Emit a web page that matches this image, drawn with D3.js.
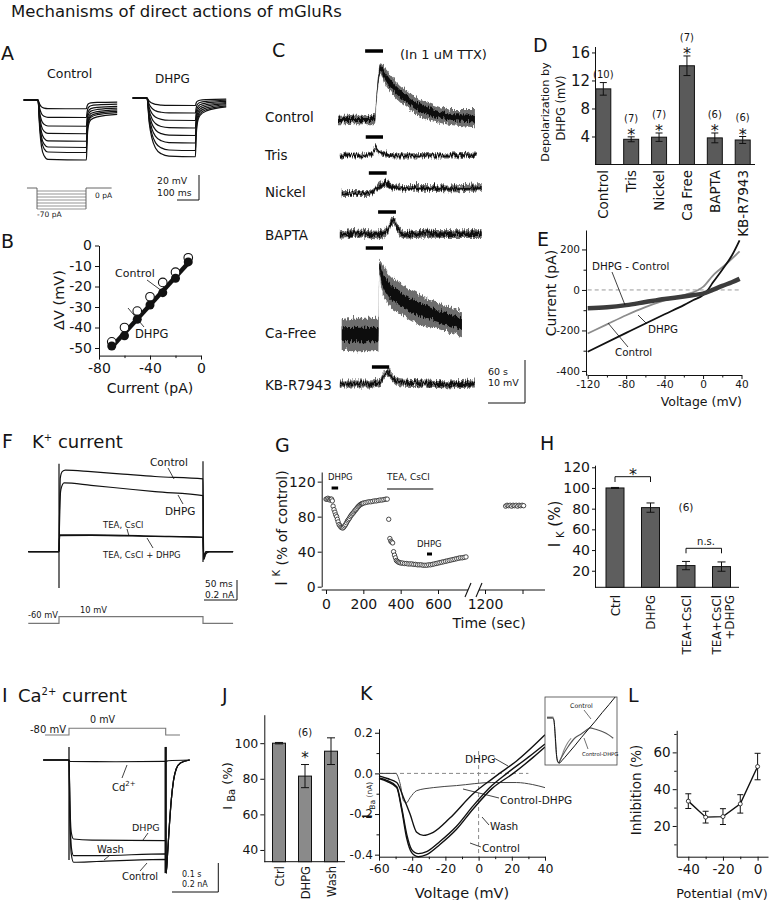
<!DOCTYPE html>
<html>
<head>
<meta charset="utf-8">
<script src="https://cdn.jsdelivr.net/npm/d3@7/dist/d3.min.js"></script>
<style>
  body { margin: 0; background: #fff; }
  svg { display: block; }
  text { font-family: "DejaVu Sans", Verdana, sans-serif; fill: #151515; }
</style>
</head>
<body>
<div id="fig"></div>
<script>
// ---------- Daten ----------

// A: Plateau der Spannungsantwort je Sweep (mV)
const aLevelsControl = [-7, -14, -21, -27, -33, -38, -42, -48];
const aLevelsDHPG = [-6, -12, -18, -24, -30, -36, -42, -47];
// normierter Verlauf eines Sweeps [ms, Anteil vom Plateau]
const aShapeControl = [[-65,0],[0,0],[8,0.5],[16,0.78],[28,0.93],[45,0.99],[220,1],[223,0.7],[228,0.45],[240,0.33],[270,0.28],[360,0.24]];
const aShapeDHPG = [[-65,0],[0,0],[10,0.42],[22,0.68],[40,0.86],[65,0.95],[100,0.99],[220,1],[223,0.7],[228,0.45],[240,0.3],[270,0.22],[360,0.15]];
const aSteps = [-10, -20, -30, -40, -50, -60, -70];

// B: I-V
const bCurrent = [-70, -60, -50, -40, -30, -20, -10];
const bControl = [-47, -40, -32, -25, -18, -13, -6];
const bDHPG = [-49, -44, -36, -29, -23, -16, -8];
const bFitControl = [[-70, -46.5], [-10, -5.5]];
const bFitDHPG = [[-70, -49.5], [-10, -8.5]];

// C: Spuren [s, mV, Rauschen ±mV]
const cNames = ["Control", "Tris", "Nickel", "BAPTA", "Ca-Free", "KB-R7943"];
const cTraces = [
  [[0,0,1],[55,0,1],[60,0.2,1],[62,4,1.2],[66,10,1.5],[69,12,1.2],[75,10.5,1.8],[85,8.5,2],[100,6.2,2],[115,4.5,2],[130,3,2],[150,1.8,2],[170,1,1.8],[190,0.5,1.8],[222,0.3,2]],
  [[3,0,0.6],[40,0,0.6],[55,0.4,0.6],[62,1.8,0.6],[66,1,0.6],[75,0.3,0.6],[100,0,0.6],[140,0.1,0.6],[180,0,0.6],[225,0.2,0.6]],
  [[6,0,0.7],[50,0,0.7],[57,0.5,0.7],[68,1.8,0.8],[78,2.3,0.8],[88,1.6,0.8],[105,1.3,0.8],[140,1.3,0.8],[180,1.2,0.8],[233,1.5,0.8]],
  [[3,0,0.9],[40,0.3,0.9],[60,0,1],[78,0.6,1],[89,3.2,1],[98,1.2,1],[108,0,0.9],[140,0.3,0.9],[180,0.2,0.9],[233,0.2,0.9]],
  [[6,0,3.5],[30,0,3.8],[50,0,3.8],[66,0,3.8],[67,16,1.5],[70,14,3],[80,11,3.5],[100,8.5,3.5],[130,6,3.5],[160,4.5,3],[180,3.5,3],[201,2.5,3]],
  [[3,0,0.8],[50,0,0.8],[68,0.3,0.8],[75,2,0.9],[81,2.6,0.9],[88,1.5,0.8],[100,0.3,0.8],[140,0,0.8],[180,-0.2,0.8],[222,0,0.8]]
];
const cDHPG = [[44,73],[45,73],[50,79],[65,94],[45,73],[55,83]];

// D: Balken
const dGroups = ["Control", "Tris", "Nickel", "Ca Free", "BAPTA", "KB-R7943"];
const dMeans = [10.8, 3.6, 3.9, 14.1, 3.8, 3.5];
const dErrs = [0.9, 0.35, 0.6, 1.4, 0.7, 0.5];
const dN = ["(10)", "(7)", "(7)", "(7)", "(6)", "(6)"];
const dSig = [false, true, true, true, true, true];

// E: Rampen-I-V [mV, pA]
const eControl = [[-120,-215],[-100,-170],[-80,-125],[-60,-85],[-40,-52],[-20,-25],[-5,0],[0,15],[10,70],[25,132],[38,190]];
const eDHPG = [[-120,-305],[-80,-212],[-40,-120],[-20,-75],[-10,-50],[0,-25],[5,0],[10,35],[20,100],[30,170],[38,245]];
const eDiff = [[-120,-90],[-100,-85],[-80,-75],[-60,-60],[-40,-45],[-20,-32],[-10,-25],[0,-18],[10,0],[20,20],[30,38],[38,55]];

// F: K+-Ströme [ms, nA]
const fControl = [[-48,0],[0,0],[1,0.5],[2,0.92],[5,1.0],[10,1.02],[50,1.0],[100,0.97],[150,0.94],[225,0.91],[226,-0.1],[229,-0.03],[235,0],[272,0]];
const fDHPG = [[-48,0],[0,0],[1,0.5],[3,0.78],[8,0.86],[50,0.83],[100,0.79],[150,0.75],[225,0.7],[226,-0.1],[229,-0.03],[235,0],[272,0]];
const fTEA = [[-48,0],[0,0],[1,0.21],[50,0.21],[150,0.195],[225,0.18],[226,-0.05],[230,0],[272,0]];
const fTEADHPG = [[-48,0],[0,0],[1,0.2],[50,0.205],[150,0.19],[225,0.18],[226,-0.05],[230,0],[272,0]];
const fTransients = [[0, 1.1, -0.455], [225, 1.13, -0.13]];
const fProtocol = [[-48,-60],[0,-60],[0,10],[225,10],[225,-60],[272,-60]];

// G: Zeitverlauf I_K [s, % of control]
const gPoints = [[0,100],[5,100],[10,101],[15,100],[20,99],[25,100],[30,100],[34,98],[38,92],[43,88],[48,85],[52,82],[57,80],[61,77],[65,74],[70,71],[75,69.5],[80,68],[85,67.5],[90,67],[95,68],[100,69.5],[105,71],[110,73],[115,75],[120,76.5],[125,78],[130,80],[135,81.5],[140,83],[145,84],[150,85.5],[155,87],[160,88],[165,89.5],[170,91],[175,92],[180,93],[185,94],[190,94.5],[195,95],[200,95.5],[210,96],[220,96.5],[230,97],[240,97],[250,97.5],[260,98],[270,98],[280,98.5],[290,99],[300,99],[310,99.5],[320,100],[328,100],[336,77],[342,55],[347,52],[352,51],[357,50],[362,40],[367,36],[372,33],[377,30],[382,29],[388,28],[395,27.5],[402,27],[410,27],[420,26.5],[430,26.5],[440,26],[450,26],[460,26],[470,25.5],[480,25.5],[490,25],[500,25],[510,25],[520,24.5],[530,24.5],[540,24.5],[550,25],[560,25],[570,25.5],[580,26],[590,26.5],[600,27],[610,27.5],[620,28],[630,28.5],[640,29],[650,29.5],[660,30],[670,30.5],[680,31],[690,31.5],[700,32],[710,32.5],[720,33],[730,33],[740,33.5],[750,34]];
const gPointsLate = [[1310,92],[1318,93],[1326,92.5],[1334,93],[1342,92],[1350,93],[1358,92.5],[1366,93],[1374,92],[1382,93],[1390,92.5],[1398,93],[1406,92.5]];
const gBars = [["DHPG", 30, 65], ["TEA, CsCl", 327, 575], ["DHPG", 541, 568]];

// H: Balken
const hGroups = ["Ctrl", "DHPG", "TEA+CsCl", "TEA+CsCl +DHPG"];
const hMeans = [100, 81, 25, 24];
const hErrs = [0.5, 4.5, 4, 4.5];

// I: Ca2+-Ströme [ms, nA]
const iCd = [[-56,0],[0,0],[2,-0.01],[100,-0.012],[210,-0.01],[215,-0.005],[262,0]];
const iDHPG = [[-56,0],[0,0],[2,-0.3],[5,-0.5],[10,-0.545],[50,-0.552],[210,-0.556],[211,-0.78],[214,-0.65],[218,-0.45],[222,-0.28],[227,-0.14],[233,-0.06],[242,-0.02],[262,0]];
const iWash = [[-56,0],[0,0],[2,-0.35],[5,-0.6],[10,-0.66],[60,-0.66],[210,-0.647],[211,-0.78],[214,-0.65],[218,-0.45],[222,-0.28],[227,-0.14],[233,-0.06],[242,-0.02],[262,0]];
const iControl = [[-56,0],[0,0],[2,-0.4],[5,-0.65],[10,-0.705],[60,-0.7],[210,-0.685],[211,-0.78],[214,-0.65],[218,-0.45],[222,-0.28],[227,-0.14],[233,-0.06],[242,-0.02],[262,0]];
const iTransients = [[0, 0.09, -0.69], [210, 0.09, -0.78]];
const iProtocol = [[-52,-80],[0,-80],[0,0],[210,0],[210,-80],[241,-80]];

// J: Balken
const jGroups = ["Ctrl", "DHPG", "Wash"];
const jMeans = [100, 81.5, 95.5];
const jErrs = [0.4, 6.5, 7.5];

// K: I-V Ba2+ [mV, nA]
const kControl = [[-60,-0.025],[-55,-0.04],[-49.3,-0.07],[-46.3,-0.18],[-43.3,-0.32],[-40.3,-0.39],[-36.3,-0.41],[-31.3,-0.4],[-23.3,-0.35],[-13.3,-0.275],[-3.3,-0.175],[8,-0.075],[20.9,0],[33,0.08],[40,0.13]];
const kWash = [[-60,-0.022],[-55,-0.035],[-49.3,-0.065],[-46.3,-0.17],[-43.3,-0.3],[-40.3,-0.375],[-36.3,-0.395],[-31.3,-0.385],[-23.3,-0.335],[-13.3,-0.26],[-3.3,-0.16],[8,-0.06],[17,0],[30,0.08],[40,0.145]];
const kDHPG = [[-60,-0.012],[-55,-0.025],[-49.3,-0.045],[-45.2,-0.12],[-41.3,-0.2],[-37.3,-0.29],[-33.3,-0.305],[-27.3,-0.29],[-17.3,-0.22],[-3.3,-0.1],[8,-0.028],[12.6,0],[22.7,0.06],[40,0.19]];
const kDiff = [[-60,0],[-50,0],[-47.3,-0.05],[-45.2,-0.135],[-43.5,-0.145],[-41.3,-0.12],[-37.3,-0.085],[-27.3,-0.07],[-13.3,-0.06],[8,-0.045],[22.7,-0.045],[32.6,-0.055],[40,-0.07]];
// Inset, normiert
const kInsetControl = [[-60,0],[-52,0],[-50,-0.05],[-48,-0.4],[-46,-0.85],[-44,-0.98],[-42,-1],[-38,-0.94],[-30,-0.8],[-20,-0.62],[-10,-0.43],[0,-0.25],[10,-0.07],[20,0.12],[30,0.3],[40,0.49]];
const kInsetGray = [[-60,0.02],[-51,0.02],[-49,-0.2],[-47,-0.7],[-45,-0.95],[-43,-1],[-40,-0.9],[-35,-0.7],[-30,-0.55],[-25,-0.45]];
const kInsetDiff = [[-43,-1],[-38,-0.85],[-30,-0.65],[-20,-0.45],[-10,-0.35],[0,-0.24],[2,-0.22],[10,-0.25],[20,-0.3],[30,-0.38],[36,-0.45]];

// L: Hemmung vs. Potential
const lPotential = [-40, -30, -20, -10, 0];
const lInhib = [33.5, 24.8, 25.1, 32, 52.3];
const lErr = [4, 3.2, 4.3, 5, 7.2];

// ---------- Zeichnen ----------
const svg = d3.select("#fig").append("svg").attr("width", 769).attr("height", 900);
svg.append("rect").attr("width", 769).attr("height", 900).attr("fill", "#fff");

// Rausch-Optik für die Spuren in C: nur vertikales Zittern der Bandkanten
const defs = svg.append("defs");
const noise = defs.append("filter").attr("id", "jitter")
  .attr("x", "-5%").attr("y", "-30%").attr("width", "110%").attr("height", "160%");
noise.append("feTurbulence").attr("type", "turbulence").attr("baseFrequency", "1.1 0.08")
  .attr("numOctaves", 2).attr("seed", 3).attr("result", "t");
noise.append("feColorMatrix").attr("in", "t").attr("type", "matrix")
  .attr("values", "0 0 0 0 0.5  0 1 0 0 0  0 0 0 0 0  0 0 0 0 1").attr("result", "m");
noise.append("feDisplacementMap").attr("in", "SourceGraphic").attr("in2", "m")
  .attr("scale", 7).attr("xChannelSelector", "R").attr("yChannelSelector", "G");

function txt(g, x, y, s, fs, o = {}) {
  const t = g.append("text").attr("x", x).attr("y", y).attr("font-size", fs).text(s);
  if (o.anchor) t.attr("text-anchor", o.anchor);
  if (o.rot) t.attr("transform", `rotate(${o.rot},${x},${y})`);
  return t;
}
function seg(g, x1, y1, x2, y2, w = 0.8, col = "#111") {
  return g.append("line").attr("x1", x1).attr("y1", y1).attr("x2", x2).attr("y2", y2)
    .attr("stroke", col).attr("stroke-width", w);
}
function axis(g, gen, x, y, fs) {
  const a = g.append("g").attr("transform", `translate(${x},${y})`).call(gen);
  a.attr("font-family", null).attr("font-size", fs);
  a.select(".domain").attr("stroke", "#111");
  a.selectAll(".tick line").attr("stroke", "#111");
  return a;
}
function minor(g, gen, x, y) {
  const a = g.append("g").attr("transform", `translate(${x},${y})`).call(gen.tickFormat(""));
  a.select(".domain").remove();
  a.selectAll(".tick line").attr("stroke", "#111");
}
function errBar(g, x, y1, y2, cap) {
  seg(g, x, y1, x, y2, 1);
  seg(g, x - cap, y1, x + cap, y1, 1);
  seg(g, x - cap, y2, x + cap, y2, 1);
}
const fmt = d => String(d);

txt(svg, 11, 17, "Mechanisms of direct actions of mGluRs", 16.5);

// ----- A -----
const gA = svg.append("g");
txt(gA, 1, 60, "A", 19);
txt(gA, 47, 78, "Control", 12.5);
txt(gA, 155, 83, "DHPG", 12);
const aX = d3.scaleLinear().domain([0, 100]).range([0, 22]);
const aY = d3.scaleLinear().domain([0, -20]).range([0, 25]);
[[38, 100, aShapeControl, aLevelsControl], [147, 98, aShapeDHPG, aLevelsDHPG]].forEach(([x0, y0, shape, levels]) => {
  const ln = d3.line().x(d => x0 + aX(d[0])).y(d => y0 + aY(d[1])).curve(d3.curveMonotoneX);
  levels.forEach(L => {
    gA.append("path").attr("d", ln(shape.map(p => [p[0], p[1] * L])))
      .attr("fill", "none").attr("stroke", "#111").attr("stroke-width", 1.2);
  });
});
const apX = d3.scaleLinear().domain([0, 220]).range([37, 86]);
const apY = d3.scaleLinear().domain([0, -70]).range([188, 209]);
gA.append("path")
  .attr("d", `M${apX(-45)},${apY(0)}H${apX(0)}V${apY(-70)}M${apX(220)},${apY(-70)}V${apY(0)}H${apX(335)}`)
  .attr("fill", "none").attr("stroke", "#555").attr("stroke-width", 0.9);
aSteps.forEach(I => seg(gA, apX(0), apY(I), apX(220), apY(I), 0.7, "#666"));
txt(gA, 95, 198, "0 pA", 7.5);
txt(gA, 37, 217, "-70 pA", 7.5);
txt(gA, 157, 184, "20 mV", 9.3);
txt(gA, 157, 196, "100 ms", 9.3);
gA.append("path").attr("d", "M177,200H199V175").attr("fill", "none").attr("stroke", "#111").attr("stroke-width", 1);

// ----- B -----
const gB = svg.append("g");
txt(gB, 1, 248, "B", 19);
const bx = d3.scaleLinear().domain([-80, 0]).range([99, 201]);
const by = d3.scaleLinear().domain([0, -53.7]).range([245.5, 355.6]);
axis(gB, d3.axisLeft(by).tickValues([0, -10, -20, -30, -40, -50]).tickSize(4).tickSizeOuter(0).tickPadding(3).tickFormat(fmt), 99, 0, 14);
axis(gB, d3.axisBottom(bx).tickValues([-80, -40, 0]).tickSize(4).tickSizeOuter(0).tickPadding(3).tickFormat(fmt), 0, 355.6, 14);
minor(gB, d3.axisBottom(bx).tickValues([-60, -20]).tickSize(2.5), 0, 355.6);
const bLine = d3.line().x(d => bx(d[0])).y(d => by(d[1]));
gB.append("path").attr("d", bLine(bFitDHPG)).attr("stroke", "#111").attr("stroke-width", 4.5).attr("fill", "none");
gB.append("path").attr("d", bLine(bFitControl)).attr("stroke", "#fff").attr("stroke-width", 1.6).attr("fill", "none");
gB.selectAll(".bc").data(bCurrent).join("circle")
  .attr("cx", d => bx(d)).attr("cy", (d, i) => by(bControl[i])).attr("r", 4.3)
  .attr("fill", "#fff").attr("stroke", "#111").attr("stroke-width", 1.1);
gB.selectAll(".bd").data(bCurrent).join("circle")
  .attr("cx", d => bx(d)).attr("cy", (d, i) => by(bDHPG[i])).attr("r", 4.5).attr("fill", "#111");
txt(gB, 115, 277, "Control", 11);
seg(gB, 147, 280, 162, 291);
txt(gB, 135, 338, "DHPG", 11.5);
seg(gB, 144, 327, 128, 308);
txt(gB, 64, 300, "ΔV (mV)", 14.5, { anchor: "middle", rot: -90 });
txt(gB, 150, 393, "Current (pA)", 14, { anchor: "middle" });

// ----- C -----
const gC = svg.append("g");
txt(gC, 272, 57, "C", 19);
txt(gC, 400, 59, "(In 1 uM TTX)", 13);
const cLabelY = [122, 160, 197, 240, 338, 390];
const cBaseY = [118, 154, 192, 233, 333, 382];
const cBarY = [51, 137, 173, 212, 248, 367];
const cX = d3.scaleLinear().domain([0, 60]).range([338, 375]);
const cY = d3.scaleLinear().domain([0, 10]).range([0, -43]);
cNames.forEach((name, i) => {
  const y0 = cBaseY[i];
  txt(gC, 265, cLabelY[i], name, 13.5);
  const outer = d3.area().x(d => cX(d[0])).y0(d => y0 + cY(d[1] - d[2])).y1(d => y0 + cY(d[1] + d[2])).curve(d3.curveMonotoneX);
  const inner = d3.area().x(d => cX(d[0])).y0(d => y0 + cY(d[1] - d[2] * 0.45)).y1(d => y0 + cY(d[1] + d[2] * 0.45)).curve(d3.curveMonotoneX);
  const tr = gC.append("g").attr("filter", "url(#jitter)");
  tr.append("path").attr("d", outer(cTraces[i])).attr("fill", "#6e6e6e");
  tr.append("path").attr("d", inner(cTraces[i])).attr("fill", "#111");
  seg(gC, cX(cDHPG[i][0]), cBarY[i], cX(cDHPG[i][1]), cBarY[i], 3.5, "#000");
});
txt(gC, 488, 375, "60 s", 9.5);
txt(gC, 488, 386, "10 mV", 9.5);
gC.append("path").attr("d", "M488,403H525V360").attr("fill", "none").attr("stroke", "#111").attr("stroke-width", 1);

// ----- D -----
const gD = svg.append("g");
txt(gD, 533, 52, "D", 19);
const dx = d3.scalePoint().domain(dGroups).range([603.3, 742.7]);
const dy = d3.scaleLinear().domain([0, 16.85]).range([164.5, 46.5]);
axis(gD, d3.axisLeft(dy).tickValues([4, 8, 12, 16]).tickSize(3).tickSizeOuter(0).tickPadding(2).tickFormat(fmt), 595, 0, 15);
seg(gD, 595, 164.5, 755, 164.5, 1);
const dW = 15;
gD.selectAll(".bar").data(dGroups).join("rect")
  .attr("x", d => dx(d) - dW / 2).attr("width", dW)
  .attr("y", (d, i) => dy(dMeans[i])).attr("height", (d, i) => dy(0) - dy(dMeans[i]))
  .attr("fill", "#5a5a5a").attr("stroke", "#111").attr("stroke-width", 1);
dGroups.forEach((g, i) => {
  const top = dy(dMeans[i] + dErrs[i]);
  errBar(gD, dx(g), top, dy(dMeans[i] - dErrs[i]), 3.5);
  if (dSig[i]) {
    txt(gD, dx(g), top + 3.5, "*", 16, { anchor: "middle" });
    txt(gD, dx(g), top - 15, dN[i], 10, { anchor: "middle" });
  } else {
    txt(gD, dx(g), top - 5, dN[i], 10, { anchor: "middle" });
  }
  txt(gD, dx(g) + 5, 170, g, 13.5, { anchor: "end", rot: -90 });
});
txt(gD, 549, 112, "Depolarization by", 11.3, { anchor: "middle", rot: -90 });
txt(gD, 565, 108, "DHPG (mV)", 11.5, { anchor: "middle", rot: -90 });

// ----- E -----
const gE = svg.append("g");
txt(gE, 537, 246, "E", 19);
const ex = d3.scaleLinear().domain([-120, 40]).range([587.7, 741.5]);
const ey = d3.scaleLinear().domain([-420, 296]).range([375, 230]);
axis(gE, d3.axisLeft(ey).tickValues([-400, -200, 0, 200]).tickSize(4).tickSizeOuter(0).tickPadding(2).tickFormat(fmt), 586, 0, 10.5);
minor(gE, d3.axisLeft(ey).tickValues([-300, -100, 100]).tickSize(2.5), 586, 0);
axis(gE, d3.axisBottom(ex).tickValues([-120, -80, -40, 0, 40]).tickSize(4).tickSizeOuter(0).tickPadding(2).tickFormat(fmt), 0, 375, 10.5);
minor(gE, d3.axisBottom(ex).tickValues([-100, -60, -20, 20]).tickSize(2.5), 0, 375);
seg(gE, 586, 375, 587.7, 375, 1);
seg(gE, ex(-120), ey(0), ex(40), ey(0), 1, "#999").attr("stroke-dasharray", "4,3");
const eLine = d3.line().x(d => ex(d[0])).y(d => ey(d[1])).curve(d3.curveMonotoneX);
gE.append("path").attr("d", eLine(eControl)).attr("fill", "none").attr("stroke", "#8c8c8c").attr("stroke-width", 1.8);
gE.append("path").attr("d", eLine(eDHPG)).attr("fill", "none").attr("stroke", "#111").attr("stroke-width", 1.8);
gE.append("path").attr("d", eLine(eDiff)).attr("fill", "none").attr("stroke", "#3c3c3c").attr("stroke-width", 4.5);
txt(gE, 592, 269.5, "DHPG - Control", 10.3);
seg(gE, 612, 272, 625, 305);
txt(gE, 648, 333, "DHPG", 10.3);
seg(gE, 647, 324, 638, 315);
txt(gE, 615, 356, "Control", 10.3);
seg(gE, 628, 347, 608, 323);
txt(gE, 556, 293, "Current (pA)", 14, { anchor: "middle", rot: -90 });
txt(gE, 742, 406, "Voltage (mV)", 12.5, { anchor: "end" });

// ----- F -----
const gF = svg.append("g");
txt(gF, 2, 448, "F", 19);
const fT = gF.append("text").attr("x", 32).attr("y", 448).attr("font-size", 18);
fT.append("tspan").text("K");
fT.append("tspan").attr("font-size", 10).attr("dy", -7).text("+");
fT.append("tspan").attr("font-size", 18).attr("dy", 7).text(" current");
const fx = d3.scaleLinear().domain([0, 225]).range([59, 203]);
const fy = d3.scaleLinear().domain([0, 1]).range([551.7, 471.7]);
const fLine = d3.line().x(d => fx(d[0])).y(d => fy(d[1])).curve(d3.curveMonotoneX);
[fControl, fDHPG, fTEA, fTEADHPG].forEach(tr => {
  gF.append("path").attr("d", fLine(tr)).attr("fill", "none").attr("stroke", "#111").attr("stroke-width", 1.2);
});
fTransients.forEach(([t, a, b]) => seg(gF, fx(t), fy(a), fx(t), fy(b), 1.2));
const fpy = d3.scaleLinear().domain([-60, 10]).range([623.3, 616.7]);
gF.append("path").attr("d", d3.line().x(d => fx(d[0])).y(d => fpy(d[1]))(fProtocol))
  .attr("fill", "none").attr("stroke", "#777").attr("stroke-width", 1.2);
txt(gF, 150, 466, "Control", 10.5);
seg(gF, 168, 468, 174, 479);
txt(gF, 165, 514.5, "DHPG", 10.5);
seg(gF, 178, 495, 183, 504);
txt(gF, 103, 528, "TEA, CsCl", 8.5);
seg(gF, 127, 529, 129, 536);
txt(gF, 103, 558, "TEA, CsCl + DHPG", 8.5);
seg(gF, 147, 538, 153, 548);
txt(gF, 28, 618, "-60 mV", 8.3);
txt(gF, 80, 613, "10 mV", 8.3);
txt(gF, 205, 587, "50 ms", 9);
txt(gF, 205, 598, "0.2 nA", 9);
gF.append("path").attr("d", "M204,600H237V580").attr("fill", "none").attr("stroke", "#111").attr("stroke-width", 1);

// ----- G -----
const gG = svg.append("g");
txt(gG, 275, 452, "G", 19);
const gx1 = d3.scaleLinear().domain([0, 750]).range([326, 466]);
const gx2 = d3.scaleLinear().domain([1200, 1520]).range([485, 545]);
const gy = d3.scaleLinear().domain([0, 131]).range([586.7, 472]);
axis(gG, d3.axisLeft(gy).tickValues([0, 40, 80, 120]).tickSize(4).tickSizeOuter(0).tickPadding(2).tickFormat(fmt), 321.7, 0, 14);
const gxa1 = axis(gG, d3.axisBottom(gx1).tickValues([0, 200, 400, 600]).tickSize(4).tickSizeOuter(0).tickPadding(5).tickFormat(fmt), 0, 590, 14);
gxa1.select(".domain").remove();
const gxa2 = axis(gG, d3.axisBottom(gx2).tickValues([1200, 1400]).tickSize(4).tickSizeOuter(0).tickPadding(5).tickFormat(d => d === 1200 ? "1200" : ""), 0, 590, 14);
gxa2.select(".domain").remove();
seg(gG, 321.7, 590, 468, 590, 1);
seg(gG, 479, 590, 545, 590, 1);
seg(gG, 465, 597, 471, 583, 1.1);
seg(gG, 476, 597, 482, 583, 1.1);
gG.selectAll(".g1").data(gPoints).join("circle")
  .attr("cx", d => gx1(d[0])).attr("cy", d => gy(d[1])).attr("r", 2.2)
  .attr("fill", "#fff").attr("stroke", "#222").attr("stroke-width", 0.8);
gG.selectAll(".g2").data(gPointsLate).join("circle")
  .attr("cx", d => gx2(d[0])).attr("cy", d => gy(d[1])).attr("r", 2.2)
  .attr("fill", "#fff").attr("stroke", "#222").attr("stroke-width", 0.8);
txt(gG, 328, 480, gBars[0][0], 8.5);
seg(gG, gx1(gBars[0][1]), 488, gx1(gBars[0][2]), 488, 3, "#000");
txt(gG, 387, 480, gBars[1][0], 9);
seg(gG, gx1(gBars[1][1]), 489, gx1(gBars[1][2]), 489, 1.1, "#000");
txt(gG, 417, 547, gBars[2][0], 8.5);
seg(gG, gx1(gBars[2][1]), 554, gx1(gBars[2][2]), 554, 3, "#000");
const gyl = gG.append("text").attr("transform", "translate(287,528) rotate(-90)").attr("text-anchor", "middle").attr("font-size", 14);
gyl.append("tspan").attr("font-size", 15).text("I ");
gyl.append("tspan").attr("font-size", 10).attr("dy", -7).text("K");
gyl.append("tspan").attr("dy", 7).text(" (% of control)");
txt(gG, 489, 628, "Time (sec)", 14, { anchor: "middle" });

// ----- H -----
const gH = svg.append("g");
txt(gH, 540, 450, "H", 19);
const hx = d3.scalePoint().domain(hGroups).range([615, 721.5]);
const hy = d3.scaleLinear().domain([4, 122]).range([587.3, 465.2]);
axis(gH, d3.axisLeft(hy).tickValues([20, 40, 60, 80, 100, 120]).tickSize(3).tickSizeOuter(0).tickPadding(2).tickFormat(fmt), 595, 0, 14);
seg(gH, 595, 587.3, 739, 587.3, 1);
const hW = 18;
gH.selectAll(".bar").data(hGroups).join("rect")
  .attr("x", d => hx(d) - hW / 2).attr("width", hW)
  .attr("y", (d, i) => hy(hMeans[i])).attr("height", (d, i) => hy(4) - hy(hMeans[i]))
  .attr("fill", "#5e5e5e").attr("stroke", "#111").attr("stroke-width", 1);
hGroups.forEach((g, i) => {
  errBar(gH, hx(g), hy(hMeans[i] + hErrs[i]), hy(hMeans[i] - hErrs[i]), 4);
  const lines = g.split(" ");
  lines.forEach((s, k) => {
    const xx = hx(g) + 4.5 + (lines.length > 1 ? (k === 0 ? -5 : 8) : 0);
    txt(gH, xx, 595, s, 12, { anchor: "end", rot: -90 });
  });
});
gH.append("path").attr("d", `M${hx("Ctrl")},482V476.7H${hx("DHPG")}V482`).attr("fill", "none").attr("stroke", "#111");
txt(gH, 633, 480, "*", 16, { anchor: "middle" });
gH.append("path").attr("d", `M${hx("TEA+CsCl")},553.3V548.3H${hx("TEA+CsCl +DHPG")}V553.3`).attr("fill", "none").attr("stroke", "#111");
txt(gH, 706, 545, "n.s.", 10, { anchor: "middle" });
txt(gH, 686, 511, "(6)", 10.5, { anchor: "middle" });
const hyl = gH.append("text").attr("transform", "translate(560,524) rotate(-90)").attr("text-anchor", "middle").attr("font-size", 15);
hyl.append("tspan").text("I ");
hyl.append("tspan").attr("font-size", 10).attr("dy", 4).text("K");
hyl.append("tspan").attr("dy", -4).text(" (%)");

// ----- I -----
const gI = svg.append("g");
txt(gI, 2, 702, "I", 19);
const iT = gI.append("text").attr("x", 18).attr("y", 702).attr("font-size", 18);
iT.append("tspan").text("Ca");
iT.append("tspan").attr("font-size", 10).attr("dy", -7).text("2+");
iT.append("tspan").attr("font-size", 18).attr("dy", 7).text(" current");
const ix = d3.scaleLinear().domain([0, 210]).range([69, 165.7]);
const iy = d3.scaleLinear().domain([0, -0.7]).range([760, 861.5]);
const ipy = d3.scaleLinear().domain([-80, 0]).range([735, 728.3]);
gI.append("path").attr("d", d3.line().x(d => ix(d[0])).y(d => ipy(d[1]))(iProtocol))
  .attr("fill", "none").attr("stroke", "#777").attr("stroke-width", 1.1);
txt(gI, 30, 733, "-80 mV", 10);
txt(gI, 90, 723, "0 mV", 9.6);
const iLine = d3.line().x(d => ix(d[0])).y(d => iy(d[1])).curve(d3.curveMonotoneX);
[iCd, iDHPG, iWash, iControl].forEach(tr => {
  gI.append("path").attr("d", iLine(tr)).attr("fill", "none").attr("stroke", "#111").attr("stroke-width", 1.2);
});
iTransients.forEach(([t, a, b], k) => seg(gI, ix(t), iy(a), ix(t), iy(b), k ? 2.4 : 1.3));
const cdT = gI.append("text").attr("x", 112).attr("y", 791).attr("font-size", 10);
cdT.append("tspan").text("Cd");
cdT.append("tspan").attr("font-size", 7).attr("dy", -5).text("2+");
seg(gI, 127, 765, 122, 778);
txt(gI, 132, 831, "DHPG", 9.5);
seg(gI, 148, 833, 143, 840);
txt(gI, 97, 853, "Wash", 10);
seg(gI, 110, 855, 104, 860);
txt(gI, 122, 880, "Control", 10);
seg(gI, 147, 863, 140, 871);
txt(gI, 182, 877, "0.1 s", 8);
txt(gI, 182, 887, "0.2 nA", 8);
gI.append("path").attr("d", "M172,892H218.3V863").attr("fill", "none").attr("stroke", "#111").attr("stroke-width", 1);

// ----- J -----
const gJ = svg.append("g");
txt(gJ, 222, 702, "J", 19);
const jx = d3.scalePoint().domain(jGroups).range([279, 331]);
const jy = d3.scaleLinear().domain([33.4, 116]).range([861.7, 714.7]);
axis(gJ, d3.axisLeft(jy).tickValues([40, 60, 80, 100]).tickSize(4).tickSizeOuter(0).tickPadding(2).tickFormat(fmt), 264.3, 0, 12.5);
seg(gJ, 264.3, 861.7, 345, 861.7, 1);
const jW = 13;
gJ.selectAll(".bar").data(jGroups).join("rect")
  .attr("x", d => jx(d) - jW / 2).attr("width", jW)
  .attr("y", (d, i) => jy(jMeans[i])).attr("height", (d, i) => jy(33.4) - jy(jMeans[i]))
  .attr("fill", "#8a8a8a").attr("stroke", "#111").attr("stroke-width", 1);
jGroups.forEach((g, i) => {
  errBar(gJ, jx(g), jy(jMeans[i] + jErrs[i]), jy(jMeans[i] - jErrs[i]), 4);
  txt(gJ, jx(g) + 4.5, 866, g, 11.5, { anchor: "end", rot: -90 });
});
txt(gJ, jx("DHPG"), 763, "*", 15, { anchor: "middle" });
txt(gJ, jx("DHPG"), 736, "(6)", 10, { anchor: "middle" });
const jyl = gJ.append("text").attr("transform", "translate(232,786) rotate(-90)").attr("text-anchor", "middle").attr("font-size", 13);
jyl.append("tspan").text("I ");
jyl.append("tspan").attr("font-size", 10).attr("dy", 3).text("Ba");
jyl.append("tspan").attr("dy", -3).text(" (%)");

// ----- K -----
const gK = svg.append("g");
txt(gK, 360, 700, "K", 19);
const kx = d3.scaleLinear().domain([-60, 40]).range([379, 545]);
const ky = d3.scaleLinear().domain([-0.41, 0.22]).range([856.7, 728.7]);
axis(gK, d3.axisLeft(ky).tickValues([-0.4, -0.2, 0, 0.2]).tickSize(4).tickSizeOuter(0).tickPadding(2).tickFormat(d => d.toFixed(1)), 379, 0, 12);
minor(gK, d3.axisLeft(ky).tickValues([-0.3, -0.1, 0.1]).tickSize(2.5), 379, 0);
axis(gK, d3.axisBottom(kx).tickValues([-60, -40, -20, 0, 20, 40]).tickSize(4).tickSizeOuter(0).tickPadding(3).tickFormat(fmt), 0, 856.7, 12.5);
minor(gK, d3.axisBottom(kx).tickValues([-50, -30, -10, 10, 30]).tickSize(2.5), 0, 856.7);
seg(gK, kx(-60), ky(0), kx(30), ky(0), 1, "#888").attr("stroke-dasharray", "4,3");
seg(gK, kx(0), ky(0.11), kx(0), ky(-0.41), 1, "#888").attr("stroke-dasharray", "4,3");
const kLine = d3.line().x(d => kx(d[0])).y(d => ky(d[1])).curve(d3.curveMonotoneX);
gK.append("path").attr("d", kLine(kDiff)).attr("fill", "none").attr("stroke", "#444").attr("stroke-width", 1);
[kControl, kWash, kDHPG].forEach(tr => {
  gK.append("path").attr("d", kLine(tr)).attr("fill", "none").attr("stroke", "#111").attr("stroke-width", 1.4);
});
txt(gK, 465, 763, "DHPG", 10.5);
seg(gK, 494, 758, 508, 766);
txt(gK, 500, 804, "Control-DHPG", 10.5);
seg(gK, 499, 798, 463, 789);
txt(gK, 490, 830, "Wash", 10.5);
seg(gK, 489, 825, 482, 817);
txt(gK, 482, 852, "Control", 10.5);
seg(gK, 481, 847, 470, 843);
const kyl = gK.append("text").attr("transform", "translate(372,800) rotate(-90)").attr("text-anchor", "middle").attr("font-size", 7.5);
kyl.append("tspan").attr("font-size", 14).text("I ");
kyl.append("tspan").attr("dy", 2.5).text("Ba");
kyl.append("tspan").attr("dy", -2.5).text(" (nA)");
txt(gK, 462, 898, "Voltage (mV)", 14.5, { anchor: "middle" });
// Inset
gK.append("rect").attr("x", 545).attr("y", 697).attr("width", 72).attr("height", 68)
  .attr("fill", "#fff").attr("stroke", "#444").attr("stroke-width", 0.8);
const kix = d3.scaleLinear().domain([-60, 40]).range([547, 616]);
const kiy = d3.scaleLinear().domain([-1, 0.5]).range([763, 695.5]);
gK.append("clipPath").attr("id", "kclip").append("rect").attr("x", 545).attr("y", 697).attr("width", 72).attr("height", 68);
const kIn = gK.append("g").attr("clip-path", "url(#kclip)");
const kiLine = d3.line().x(d => kix(d[0])).y(d => kiy(d[1])).curve(d3.curveMonotoneX);
kIn.append("path").attr("d", kiLine(kInsetGray)).attr("fill", "none").attr("stroke", "#888").attr("stroke-width", 1.1);
kIn.append("path").attr("d", kiLine(kInsetDiff)).attr("fill", "none").attr("stroke", "#555").attr("stroke-width", 1.1);
kIn.append("path").attr("d", kiLine(kInsetControl)).attr("fill", "none").attr("stroke", "#111").attr("stroke-width", 1);
txt(gK, 570, 708, "Control", 6.3);
seg(gK, 584, 710, 591, 719, 0.6);
txt(gK, 582, 756, "Control-DHPG", 5.3);
seg(gK, 588, 749, 584, 738, 0.6);

// ----- L -----
const gL = svg.append("g");
txt(gL, 628, 702, "L", 19);
const lx = d3.scaleLinear().domain([-46.7, 6]).range([676.7, 768]);
const ly = d3.scaleLinear().domain([3.3, 72]).range([856.7, 730.3]);
axis(gL, d3.axisLeft(ly).tickValues([20, 40, 60]).tickSize(4).tickSizeOuter(0).tickPadding(2).tickFormat(fmt), 676.7, 0, 13.5);
minor(gL, d3.axisLeft(ly).tickValues([10, 30, 50, 70]).tickSize(2.5), 676.7, 0);
axis(gL, d3.axisBottom(lx).tickValues([-40, -20, 0]).tickSize(4).tickSizeOuter(0).tickPadding(4).tickFormat(fmt), 0, 856.7, 13.5);
minor(gL, d3.axisBottom(lx).tickValues([-30, -10]).tickSize(2.5), 0, 856.7);
lPotential.forEach((p, i) => errBar(gL, lx(p), ly(lInhib[i] + lErr[i]), ly(lInhib[i] - lErr[i]), 3));
gL.append("path").attr("d", d3.line().x((d, i) => lx(d)).y((d, i) => ly(lInhib[i]))(lPotential))
  .attr("fill", "none").attr("stroke", "#111").attr("stroke-width", 1.4);
gL.selectAll(".lp").data(lPotential).join("circle")
  .attr("cx", d => lx(d)).attr("cy", (d, i) => ly(lInhib[i])).attr("r", 2)
  .attr("fill", "#fff").attr("stroke", "#111").attr("stroke-width", 0.8);
txt(gL, 641, 790, "Inhibition (%)", 13.5, { anchor: "middle", rot: -90 });
txt(gL, 722, 898, "Potential (mV)", 12.8, { anchor: "middle" });
</script>
</body>
</html>
